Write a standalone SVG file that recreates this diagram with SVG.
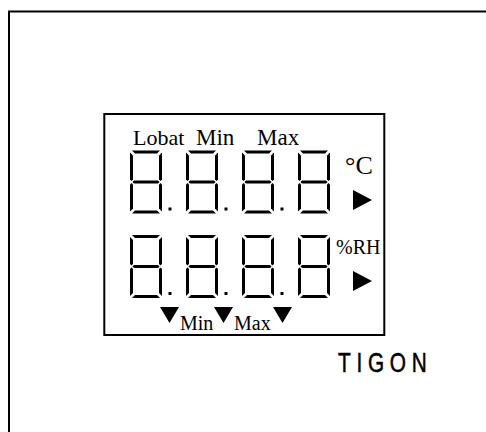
<svg xmlns="http://www.w3.org/2000/svg" xmlns:xlink="http://www.w3.org/1999/xlink" width="486" height="432" viewBox="0 0 486 432">
<style>
.frame{fill:none;stroke:#000;stroke-width:2}
.seg{fill:#000}
.serif{font-family:"Liberation Serif","Times New Roman",serif;fill:#000}
.sans{font-family:"Liberation Sans",Arial,sans-serif;fill:#000}
</style>
<defs>
<g id="digit">
<polygon class="seg" points="2,0 30,0 27,3 5,3"/>
<polygon class="seg" points="0,2 3,5 3,29 1.5,30.5 0,29"/>
<polygon class="seg" points="32,2 29,5 29,29 30.5,30.5 32,29"/>
<polygon class="seg" points="2.5,31.5 4,30 28,30 29.5,31.5 28,33 4,33"/>
<polygon class="seg" points="0,34 1.5,32.5 3,34 3,58 0,61"/>
<polygon class="seg" points="32,34 30.5,32.5 29,34 29,58 32,61"/>
<polygon class="seg" points="5,60 27,60 30,63 2,63"/>
</g>
<g id="digitdot">
<use xlink:href="#digit"/>
<rect class="seg" x="38.5" y="57" width="3" height="3"/>
</g>
</defs>
<g id="outer-frame">
<path class="frame" d="M9,432 V11.5 H486"/>
</g>
<g id="lcd">
<rect class="frame" x="104.3" y="114" width="280" height="221"/>
</g>
<g id="row1">
<use xlink:href="#digitdot" x="130" y="150.5"/>
<use xlink:href="#digitdot" x="186" y="150.5"/>
<use xlink:href="#digitdot" x="242" y="150.5"/>
<use xlink:href="#digit" x="298" y="150.5"/>
</g>
<g id="row2">
<use xlink:href="#digitdot" x="130" y="235"/>
<use xlink:href="#digitdot" x="186" y="235"/>
<use xlink:href="#digitdot" x="242" y="235"/>
<use xlink:href="#digit" x="298" y="235"/>
</g>
<g id="top-labels">
<text class="serif" x="133" y="145" font-size="22">Lobat</text>
<text class="serif" x="196" y="145" font-size="23">Min</text>
<text class="serif" x="257" y="145" font-size="23">Max</text>
</g>
<g id="units">
<text class="serif" x="345" y="174" font-size="26">°C</text>
<polygon class="seg" points="353,190 372,200 353,210"/>
<text class="serif" x="336" y="254" font-size="20">%RH</text>
<polygon class="seg" points="353,271 372,281 353,291"/>
</g>
<g id="bottom-labels">
<polygon class="seg" points="160,307 179,307 169.5,323"/>
<text class="serif" x="180" y="330" font-size="20">Min</text>
<polygon class="seg" points="214,307 233,307 223.5,323"/>
<text class="serif" x="234" y="330" font-size="20">Max</text>
<polygon class="seg" points="273,307 292,307 282.5,323"/>
</g>
<g id="brand">
<text class="sans" transform="translate(338,372) scale(0.8,1.05)" x="0" y="0" font-size="26" stroke="#000" stroke-width="0.5" textLength="111" lengthAdjust="spacing">TIGON</text>
</g>
</svg>
